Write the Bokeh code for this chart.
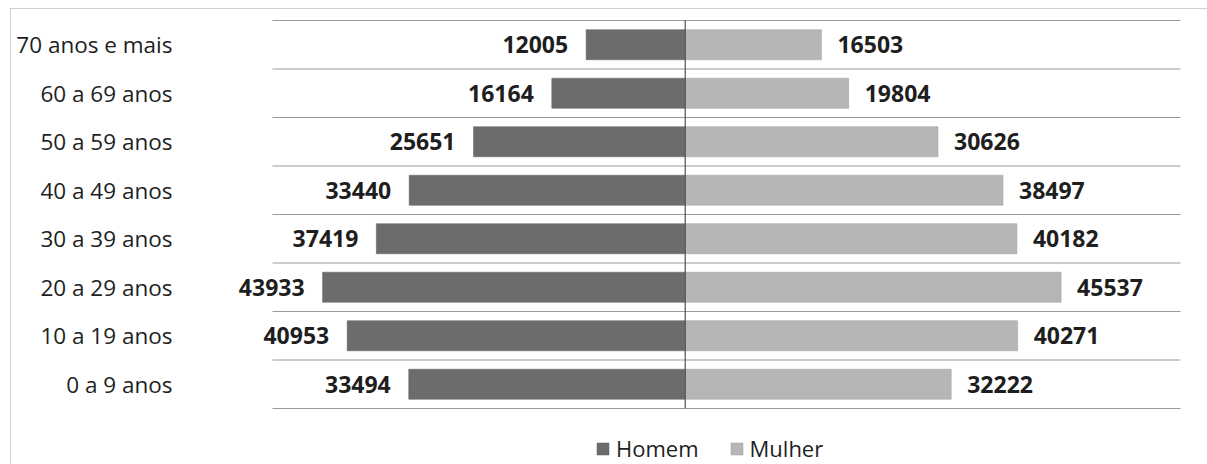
from bokeh.plotting import figure
from bokeh.models import Range1d, Legend, LegendItem, ColumnDataSource
from bokeh.core.properties import value
from bokeh.embed import file_html
from bokeh.resources import INLINE

categories = ["0 a 9 anos", "10 a 19 anos", "20 a 29 anos", "30 a 39 anos",
              "40 a 49 anos", "50 a 59 anos", "60 a 69 anos", "70 anos e mais"]
homem = [33494, 40953, 43933, 37419, 33440, 25651, 16164, 12005]
mulher = [32222, 40271, 45537, 40182, 38497, 30626, 19804, 16503]

FONT = "Open Sans"
N = len(categories)
XMIN, XMAX = -50000, 60000

# layout (pixels) -> ranges covering the whole figure
W, H = 1207, 464
PL, PR, PT, PB = 272, 1180, 20, 408
sx = (PR - PL) / (XMAX - XMIN)
sy = (PB - PT) / N
x_start = XMIN - PL / sx
x_end = XMAX + (W - PR) / sx
y_start = -(H - PB) / sy
y_end = N + PT / sy

ypos = [i + 0.5 for i in range(N)]

src = ColumnDataSource(dict(
    y=ypos,
    cat=categories,
    hl=[-v for v in homem],
    mr=mulher,
    ht=[str(v) for v in homem],
    mt=[str(v) for v in mulher],
    zero=[0] * N,
    xmin=[XMIN] * N,
))
grid_src = ColumnDataSource(dict(
    y=list(range(N + 1)),
    x0=[XMIN] * (N + 1),
    x1=[XMAX] * (N + 1),
))

p = figure(width=W, height=H, output_backend="svg", toolbar_location=None,
           x_range=Range1d(x_start, x_end), y_range=Range1d(y_start, y_end),
           min_border=0)
p.outline_line_color = None
p.background_fill_color = "white"
p.border_fill_color = "white"
p.axis.visible = False
p.grid.visible = False

# outer chart border (top and left edges visible in the crop)
bx = x_start + 10 / sx
by = y_end - 8 / sy
p.segment(x0=[bx, bx], x1=[x_end, bx], y0=[by, by], y1=[by, y_start],
          line_color="#a0a0a0", line_width=1, line_dash="1 1")

# horizontal category separators
p.segment(x0="x0", x1="x1", y0="y", y1="y", source=grid_src,
          line_color="#9a9a9a", line_width=1)

r1 = p.hbar(y="y", left="hl", right="zero", height=0.62, source=src,
            fill_color="#6c6c6c", line_color="#5e5e5e", line_width=0.5)
r2 = p.hbar(y="y", left="zero", right="mr", height=0.62, source=src,
            fill_color="#b6b6b6", line_color="#9e9e9e", line_width=0.5)

# zero axis line
p.segment(x0=[0], x1=[0], y0=[0], y1=[N], line_color="#505050", line_width=1.2)

# category labels
p.text(x="xmin", y="y", text="cat", source=src, x_offset=-100, text_align="right",
       text_baseline="middle", text_font=value(FONT), text_font_size="22.5px",
       text_color="#1e1e1e")

# value labels
p.text(x="hl", y="y", text="ht", source=src, x_offset=-18, text_align="right",
       text_baseline="middle", text_font=value(FONT), text_font_style="bold",
       text_font_size="23px", text_color="#1e1e1e")
p.text(x="mr", y="y", text="mt", source=src, x_offset=16, text_align="left",
       text_baseline="middle", text_font=value(FONT), text_font_style="bold",
       text_font_size="23px", text_color="#1e1e1e")

legend = Legend(items=[LegendItem(label="Homem", renderers=[r1]),
                       LegendItem(label="Mulher", renderers=[r2])],
                orientation="horizontal", location=(595, 1),
                border_line_color=None, background_fill_alpha=0,
                label_text_font=FONT, label_text_font_size="22px",
                label_text_color="#1e1e1e", glyph_width=15, glyph_height=15,
                spacing=30, padding=4, margin=0, label_standoff=6)
p.add_layout(legend)

open("out.html", "w").write(file_html(p, INLINE))
